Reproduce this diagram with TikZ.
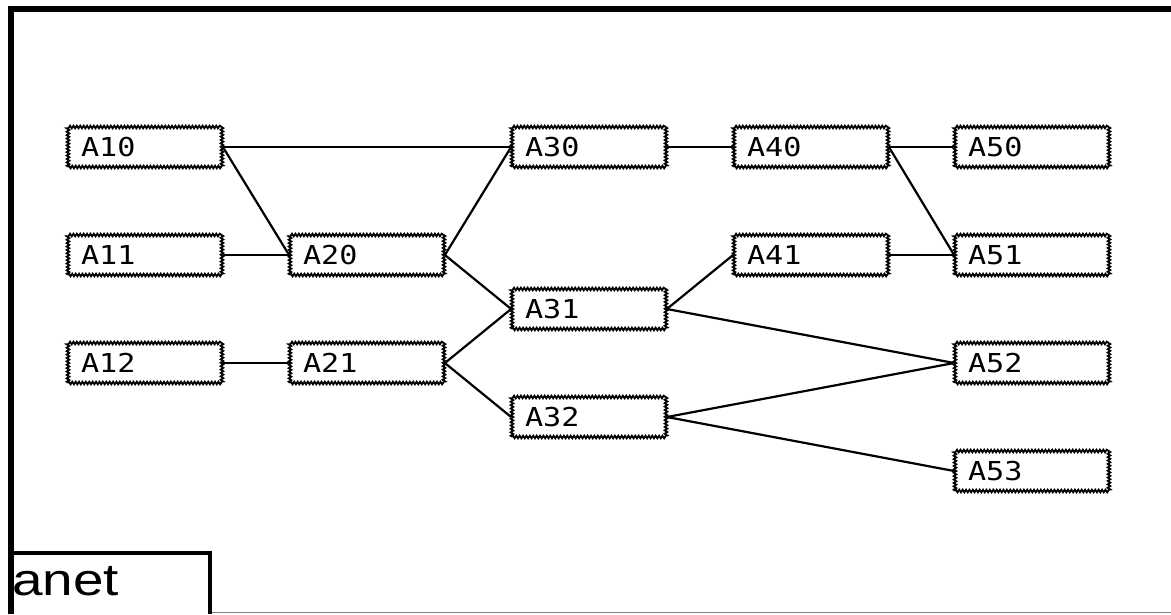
\documentclass[tikz,border=0pt]{standalone}
\usepackage{fontspec}
\usetikzlibrary{decorations.pathmorphing}
\newfontfamily\boxfont{DejaVu Sans Mono}
\newfontfamily\labfont{Liberation Sans}
\tikzset{
  nbox/.style={draw, line width=1.8pt, decorate,
    decoration={zigzag, segment length=3.4pt, amplitude=1.3pt},
    minimum width=154pt, minimum height=40pt, inner sep=0pt,
    text width=128pt, align=left,
    font=\boxfont\fontsize{26}{26}\selectfont},
  edge/.style={line width=2.2pt},
  frame/.style={line width=5.5pt}
}
\newcommand{\bl}[1]{\scalebox{1.16}[1]{#1}}
\begin{document}
\begin{tikzpicture}[x=1pt,y=-1pt]
\useasboundingbox (0,0) rectangle (1171,614);
% frame
\draw[frame] (11,614) -- (11,9) -- (1171,9);
\draw[gray, line width=0.8pt] (210,612) -- (1171,612);
\draw[line width=3.2pt] (11,553) -- (210,553) -- (210,614);
\node[anchor=west, inner sep=0pt, font=\labfont\fontsize{45}{45}\selectfont] (lab) at (12,581) {\scalebox{1.22}[1]{anet}};
% nodes
\node[nbox] (A10) at (145,147) {\bl{A10}};
\node[nbox] (A11) at (145,255) {\bl{A11}};
\node[nbox] (A12) at (145,363) {\bl{A12}};
\node[nbox] (A20) at (367,255) {\bl{A20}};
\node[nbox] (A21) at (367,363) {\bl{A21}};
\node[nbox] (A30) at (589,147) {\bl{A30}};
\node[nbox] (A31) at (589,309) {\bl{A31}};
\node[nbox] (A32) at (589,417) {\bl{A32}};
\node[nbox] (A40) at (811,147) {\bl{A40}};
\node[nbox] (A41) at (811,255) {\bl{A41}};
\node[nbox] (A50) at (1032,147) {\bl{A50}};
\node[nbox] (A51) at (1032,255) {\bl{A51}};
\node[nbox] (A52) at (1032,363) {\bl{A52}};
\node[nbox] (A53) at (1032,471) {\bl{A53}};
% edges
\draw[edge] (A10.east) -- (A30.west);
\draw[edge] (A10.east) -- (A20.west);
\draw[edge] (A11.east) -- (A20.west);
\draw[edge] (A12.east) -- (A21.west);
\draw[edge] (A20.east) -- (A30.west);
\draw[edge] (A20.east) -- (A31.west);
\draw[edge] (A21.east) -- (A31.west);
\draw[edge] (A21.east) -- (A32.west);
\draw[edge] (A30.east) -- (A40.west);
\draw[edge] (A31.east) -- (A41.west);
\draw[edge] (A31.east) -- (A52.west);
\draw[edge] (A32.east) -- (A52.west);
\draw[edge] (A32.east) -- (A53.west);
\draw[edge] (A40.east) -- (A50.west);
\draw[edge] (A40.east) -- (A51.west);
\draw[edge] (A41.east) -- (A51.west);
\end{tikzpicture}
\end{document}
